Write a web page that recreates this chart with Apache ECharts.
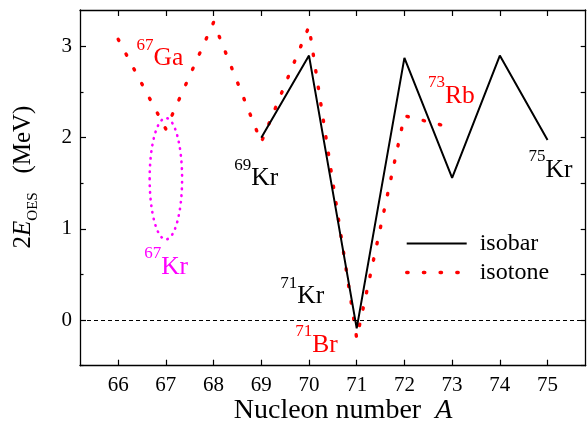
<!DOCTYPE html>
<html>
<head>
<meta charset="utf-8">
<script src="https://cdn.jsdelivr.net/npm/echarts@6/dist/echarts.min.js"></script>
<style>
  html, body { margin: 0; padding: 0; background: #fff; }
  #chart { width: 588px; height: 428px; }
</style>
</head>
<body>
<div id="chart"></div>
<script>
// Mass numbers on the x axis and value ticks on the y axis
const massNumbers = [66, 67, 68, 69, 70, 71, 72, 73, 74, 75];
const energyTicks = [0, 1, 2, 3];
const energyMinorTicks = [-0.5, 0.5, 1.5, 2.5];

// Odd-even staggering 2E_OES (MeV) along the isobar chain
const isobarA = [69, 70, 71, 72, 73, 74, 75];
const isobarValues = [2.00, 2.90, -0.09, 2.875, 1.56, 2.90, 1.975];

// Odd-even staggering along the isotone chain
const isotoneA = [66, 67, 68, 69, 70, 71, 72, 73];
const isotoneValues = [3.08, 2.095, 3.265, 1.95, 3.22, -0.20, 2.24, 2.11];

// Uncertainty ellipse around 67Kr: centre (A, MeV) and half-widths (A, MeV)
const ellipseCenter = [67, 1.55];
const ellipseRadii = [0.34, 0.665];

// Nuclide annotations
const nuclideMass = ['67', '69', '67', '71', '71', '73', '75'];
const nuclideSymbol = ['Ga', 'Kr', 'Kr', 'Kr', 'Br', 'Rb', 'Kr'];

const SERIF = '"Liberation Serif", "Times New Roman", serif';
const RED = '#ff0000';
const MAGENTA = '#ff00ff';
const BLACK = '#000000';

// anchor (centre of the label, in data space) of each nuclide label and its colour
const labelPlacement = [
  { at: [66.875, 2.915], color: RED },
  { at: [68.895, 1.60], color: BLACK },
  { at: [67.006, 0.63], color: MAGENTA },
  { at: [69.857, 0.306], color: BLACK },
  { at: [70.155, -0.226], color: RED },
  { at: [72.985, 2.504], color: RED },
  { at: [75.063, 1.697], color: BLACK }
];

const pairs = (xs, ys) => xs.map((x, i) => [x, ys[i]]);

const isotoneLine = { color: RED, width: 3.4, type: [1.4, 15.3], cap: 'round' };

const axisLine = { show: true, onZero: false, lineStyle: { color: BLACK, width: 1.3 } };
const tickLine = { color: BLACK, width: 1.2 };
const tickLabel = { fontFamily: SERIF, fontSize: 21, fontWeight: 'normal', color: BLACK };

const chart = echarts.init(document.getElementById('chart'), null, { renderer: 'canvas' });

chart.setOption({
  animation: false,
  backgroundColor: '#ffffff',
  textStyle: { fontFamily: SERIF, color: BLACK },
  grid: { left: 80, right: 2.3, top: 10, bottom: 62.3, containLabel: false },
  xAxis: [
    {
      type: 'value', position: 'bottom', min: 65.2, max: 75.8,
      axisLine: axisLine,
      axisTick: { show: true, inside: true, length: 6, customValues: massNumbers, lineStyle: tickLine },
      axisLabel: Object.assign({ show: true, customValues: massNumbers, margin: 9 }, tickLabel),
      splitLine: { show: false }
    },
    {
      type: 'value', position: 'top', min: 65.2, max: 75.8,
      axisLine: axisLine,
      axisTick: { show: true, inside: true, length: 6, customValues: massNumbers, lineStyle: tickLine },
      axisLabel: { show: false },
      splitLine: { show: false }
    }
  ],
  yAxis: [
    {
      type: 'value', position: 'left', min: -0.5, max: 3.4, interval: 0.5,
      axisLine: axisLine,
      axisTick: { show: true, inside: true, length: 6, customValues: energyTicks, lineStyle: tickLine },
      axisLabel: Object.assign({
        show: true, margin: 8,
        formatter: (v) => (energyTicks.indexOf(v) >= 0 ? String(v) : '')
      }, tickLabel),
      splitLine: { show: false }
    },
    {
      type: 'value', position: 'left', min: -0.5, max: 3.4,
      axisLine: { show: false, onZero: false },
      axisTick: { show: true, inside: true, length: 3.5, customValues: energyMinorTicks, lineStyle: tickLine },
      axisLabel: { show: false },
      splitLine: { show: false }
    },
    {
      type: 'value', position: 'right', min: -0.5, max: 3.4,
      axisLine: axisLine,
      axisTick: { show: true, inside: true, length: 5, customValues: energyTicks.concat(energyMinorTicks), lineStyle: tickLine },
      axisLabel: { show: false },
      splitLine: { show: false }
    }
  ],
  legend: {
    left: 400, top: 226.5, orient: 'vertical',
    itemWidth: 60, itemHeight: 14, itemGap: 5,
    selectedMode: false,
    itemStyle: { opacity: 0 },
    data: [
      { name: 'isobar', lineStyle: { color: BLACK, width: 2 } },
      { name: 'isotone', lineStyle: isotoneLine }
    ],
    textStyle: { fontFamily: SERIF, fontSize: 24, color: BLACK, padding: [0, 0, 0, 8] }
  },
  graphic: [
    {
      type: 'text', x: 343, y: 411,
      style: {
        text: '{n|Nucleon number  }{i|A}',
        align: 'center', verticalAlign: 'middle',
        rich: {
          n: { fontFamily: SERIF, fontSize: 28, fill: BLACK },
          i: { fontFamily: SERIF, fontSize: 28, fontStyle: 'italic', fill: BLACK }
        }
      }
    },
    {
      type: 'text', x: 26, y: 177, rotation: Math.PI / 2,
      style: {
        text: '{n|2}{i|E}{sub|OES}{n|   (MeV)}',
        align: 'center', verticalAlign: 'middle',
        rich: {
          n: { fontFamily: SERIF, fontSize: 25, lineHeight: 30, verticalAlign: 'top', fill: BLACK },
          i: { fontFamily: SERIF, fontSize: 25, lineHeight: 30, verticalAlign: 'top', fontStyle: 'italic', fill: BLACK },
          sub: { fontFamily: SERIF, fontSize: 15, lineHeight: 15, verticalAlign: 'bottom', fill: BLACK }
        }
      }
    }
  ],
  series: [
    {
      name: 'isobar', type: 'line', data: pairs(isobarA, isobarValues),
      symbol: 'none', z: 3,
      lineStyle: { color: BLACK, width: 2 },
      itemStyle: { color: BLACK },
      markLine: {
        silent: true, symbol: 'none', animation: false,
        label: { show: false },
        lineStyle: { color: BLACK, width: 1, type: [4, 3] },
        data: [{ yAxis: 0 }]
      }
    },
    {
      name: 'isotone', type: 'line', data: pairs(isotoneA, isotoneValues),
      symbol: 'none', z: 2,
      lineStyle: isotoneLine,
      itemStyle: { color: RED }
    },
    {
      name: 'ellipse', type: 'custom', silent: true, z: 2,
      data: [[ellipseCenter[0], ellipseCenter[1], ellipseRadii[0], ellipseRadii[1]]],
      encode: { x: 0, y: 1 },
      renderItem: function (params, api) {
        const c = api.coord([api.value(0), api.value(1)]);
        const e = api.coord([api.value(0) + api.value(2), api.value(1) + api.value(3)]);
        return {
          type: 'ellipse',
          shape: { cx: c[0], cy: c[1], rx: Math.abs(e[0] - c[0]), ry: Math.abs(c[1] - e[1]) },
          style: { fill: 'none', stroke: MAGENTA, lineWidth: 2.6, lineDash: [0.5, 6.2], lineCap: 'round' }
        };
      }
    }
  ]
});

// Nuclide labels: mass number as superscript before the element symbol,
// placed at their data-space anchors through the grid's scales.
const nuclideLabels = labelPlacement.map((p, i) => {
  const px = chart.convertToPixel({ xAxisIndex: 0, yAxisIndex: 0 }, p.at);
  return {
    type: 'text', id: 'nuclide' + i, x: px[0], y: px[1], z: 10, silent: true,
    style: {
      text: '{s|' + nuclideMass[i] + '}{m|' + nuclideSymbol[i] + '}',
      align: 'center', verticalAlign: 'middle',
      rich: {
        s: { fontFamily: SERIF, fontSize: 17, lineHeight: 17, verticalAlign: 'top', fill: p.color },
        m: { fontFamily: SERIF, fontSize: 25.5, lineHeight: 35, verticalAlign: 'bottom', fill: p.color }
      }
    }
  };
});
chart.setOption({ graphic: nuclideLabels });
</script>
</body>
</html>
